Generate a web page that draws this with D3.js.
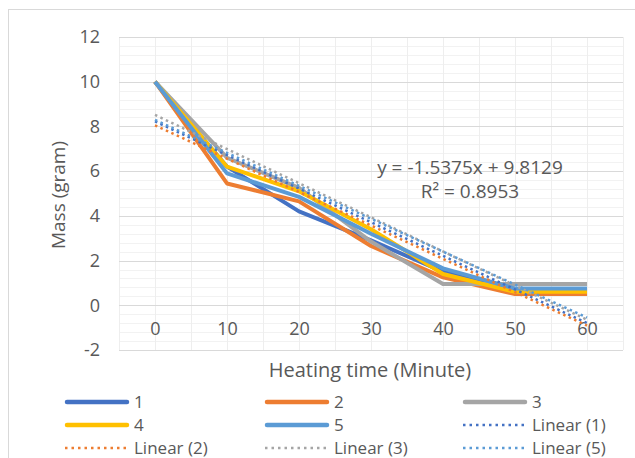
<!DOCTYPE html>
<html>
<head>
<meta charset="utf-8">
<script src="https://cdn.jsdelivr.net/npm/d3@7"></script>
<style>
  body { margin: 0; background: #fff; }
  svg text { font-family: "Open Sans", "Noto Sans", sans-serif; fill: #595959; }
</style>
</head>
<body>
<div id="chart"></div>
<script>
// ==========================================================
// DATA

let minutes = ['0', '10', '20', '30', '40', '50', '60'];
let yTicks = [-2, 0, 2, 4, 6, 8, 10, 12];

let series1 = [10, 6.2, 4.2, 2.9, 1.5, 0.6, 0.6];
let series2 = [10, 5.45, 4.65, 2.65, 1.25, 0.5, 0.5];
let series3 = [10, 6.6, 5.25, 2.85, 0.95, 0.95, 0.95];
let series4 = [10, 6.2, 5.1, 3.4, 1.4, 0.6, 0.6];
let series5 = [10, 5.9, 4.85, 3.2, 1.65, 0.75, 0.75];

let seriesNames = ['1', '2', '3', '4', '5'];
let seriesColours = ['#4472C4', '#ED7D31', '#A5A5A5', '#FFC000', '#5B9BD5'];
let trendOf = [0, 1, 2, 4];   // series that carry a linear trendline

let equationText = 'y = -1.5375x + 9.8129';
let r2Text = 'R² = 0.8953';

// ==========================================================
// SUPPORT FUNCTIONS

function linearFit(values) {
// least squares with x = 1..n, like the spreadsheet trendline
    let n = values.length;
    let xs = d3.range(1, n + 1);
    let mx = d3.mean(xs), my = d3.mean(values);
    let sxy = 0, sxx = 0;
    for (let i = 0; i < n; i++) {
        sxy += (xs[i] - mx) * (values[i] - my);
        sxx += (xs[i] - mx) * (xs[i] - mx);
    }
    let slope = sxy / sxx;
    return { slope: slope, intercept: my - slope * mx };
}

// ==========================================================
// MAIN

let width = 635, height = 458;
let allSeries = [series1, series2, series3, series4, series5];

let svg = d3.select('#chart')
            .append('svg')
            .attr('width', width)
            .attr('height', height);

// chart frame
svg.append('rect')
   .attr('x', 8.5).attr('y', 9.5)
   .attr('width', 640).attr('height', 460)
   .attr('fill', '#fff')
   .attr('stroke', '#d9d9d9');

let x_scale = d3.scalePoint()
                .domain(minutes)
                .range([119, 623])
                .padding(0.5);

let y_scale = d3.scaleLinear()
                .domain([-2, 12])
                .range([350, 37]);

let step = x_scale.step();

// minor horizontal grid
let minor = d3.range(-2, 12.001, 0.4).filter(v => Math.abs(v / 2 - Math.round(v / 2)) > 0.01);
svg.append('g').selectAll('line')
   .data(minor).enter().append('line')
   .attr('x1', 119).attr('x2', 623)
   .attr('y1', d => Math.round(y_scale(d)) + 0.5)
   .attr('y2', d => Math.round(y_scale(d)) + 0.5)
   .attr('stroke', '#f2f2f2');

// vertical grid (categories and half steps)
let vx = d3.range(0, minutes.length * 2 + 1).map(i => 119 + i * step / 2);
svg.append('g').selectAll('line')
   .data(vx).enter().append('line')
   .attr('x1', d => Math.round(d) + 0.5).attr('x2', d => Math.round(d) + 0.5)
   .attr('y1', 37).attr('y2', 350)
   .attr('stroke', '#eeeeee');

// major horizontal grid
svg.append('g').selectAll('line')
   .data(yTicks).enter().append('line')
   .attr('x1', 119).attr('x2', 623)
   .attr('y1', d => Math.round(y_scale(d)) + 0.5)
   .attr('y2', d => Math.round(y_scale(d)) + 0.5)
   .attr('stroke', '#d9d9d9');

// y axis labels (plain hyphen for negatives, as in the spreadsheet)
let y_axis = d3.axisLeft(y_scale)
               .tickValues(yTicks)
               .tickFormat(d => String(d))
               .tickSize(0)
               .tickPadding(19);
svg.append('g')
   .attr('transform', 'translate(119,0)')
   .call(y_axis)
   .call(g => g.select('.domain').remove())
   .selectAll('text')
   .attr('font-size', 18)
   .attr('fill', '#595959');

// x axis labels, sitting below the zero line
let x_axis = d3.axisBottom(x_scale)
               .tickSize(0)
               .tickPadding(17);
svg.append('g')
   .attr('transform', 'translate(0,' + y_scale(0) + ')')
   .call(x_axis)
   .call(g => g.select('.domain').remove())
   .selectAll('text')
   .attr('font-size', 18)
   .attr('fill', '#595959');

// axis titles
svg.append('text')
   .attr('transform', 'translate(65,195) rotate(-90)')
   .attr('text-anchor', 'middle')
   .attr('font-size', 19)
   .text('Mass (gram)');

svg.append('text')
   .attr('x', 370).attr('y', 377)
   .attr('text-anchor', 'middle')
   .attr('font-size', 20)
   .text('Heating time (Minute)');

// series lines
let line = d3.line()
             .x((d, i) => x_scale(minutes[i]))
             .y(d => y_scale(d));

svg.append('g').selectAll('path')
   .data(allSeries).enter().append('path')
   .attr('d', line)
   .attr('fill', 'none')
   .attr('stroke', (d, i) => seriesColours[i])
   .attr('stroke-width', 4)
   .attr('stroke-linejoin', 'round');

// trendlines
let trends = trendOf.map(function (k) {
    let fit = linearFit(allSeries[k]);
    return { k: k, fit: fit };
});

svg.append('g').selectAll('line')
   .data(trends).enter().append('line')
   .attr('x1', x_scale(minutes[0]))
   .attr('x2', x_scale(minutes[minutes.length - 1]))
   .attr('y1', d => y_scale(d.fit.intercept + d.fit.slope * 1))
   .attr('y2', d => y_scale(d.fit.intercept + d.fit.slope * minutes.length))
   .attr('stroke', d => seriesColours[d.k])
   .attr('stroke-width', 2.5)
   .attr('stroke-dasharray', '2.5,3.5');

// equation label
svg.append('text')
   .attr('x', 470).attr('y', 174)
   .attr('text-anchor', 'middle')
   .attr('font-size', 19)
   .text(equationText);
svg.append('text')
   .attr('x', 470).attr('y', 198)
   .attr('text-anchor', 'middle')
   .attr('font-size', 19)
   .text(r2Text);

// legend
let legendItems = seriesNames.map((n, i) => ({ name: n, colour: seriesColours[i], dotted: false }))
    .concat(trendOf.map(k => ({ name: 'Linear (' + seriesNames[k] + ')', colour: seriesColours[k], dotted: true })));

let colX = [65, 265, 463];
let rowY = [402, 425, 448];

let items = svg.append('g').selectAll('g')
               .data(legendItems).enter().append('g')
               .attr('transform', (d, i) => 'translate(' + colX[i % 3] + ',' + rowY[Math.floor(i / 3)] + ')');

items.append('line')
     .attr('x1', d => d.dotted ? 0 : 2).attr('x2', 62)
     .attr('stroke', d => d.colour)
     .attr('stroke-width', d => d.dotted ? 2.5 : 4.5)
     .attr('stroke-linecap', d => d.dotted ? 'butt' : 'round')
     .attr('stroke-dasharray', d => d.dotted ? '2.5,4' : null);

items.append('text')
     .attr('x', 69)
     .attr('y', 6)
     .attr('font-size', 17)
     .text(d => d.name);
</script>
</body>
</html>
